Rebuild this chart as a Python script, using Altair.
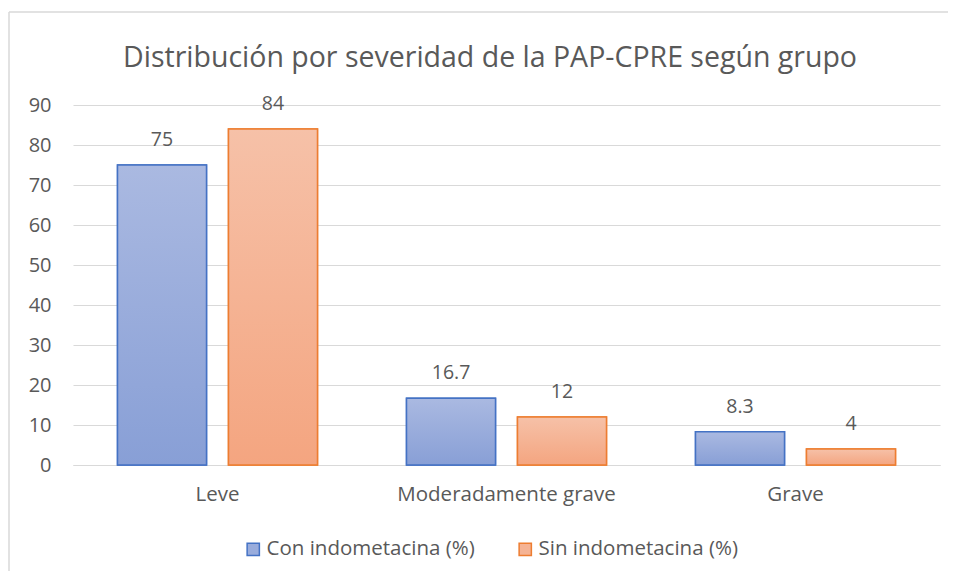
import altair as alt
import pandas as pd

titulo = "Distribución por severidad de la PAP-CPRE según grupo"
categorias = ["Leve", "Moderadamente grave", "Grave"]
series = ["Con indometacina (%)", "Sin indometacina (%)"]
con_indometacina = [75, 16.7, 8.3]
sin_indometacina = [84, 12, 4]
etiquetas_con = ["75", "16.7", "8.3"]
etiquetas_sin = ["84", "12", "4"]

rows = []
for i, c in enumerate(categorias):
    rows.append({"cat": c, "serie": series[0], "valor": con_indometacina[i], "lab": etiquetas_con[i]})
    rows.append({"cat": c, "serie": series[1], "valor": sin_indometacina[i], "lab": etiquetas_sin[i]})
df = pd.DataFrame(rows)

FONT = "Open Sans"
GRAY = "#595959"
GRID = "#D9D9D9"

def grad(top, bottom):
    return alt.Gradient(
        gradient="linear",
        stops=[alt.GradientStop(color=top, offset=0), alt.GradientStop(color=bottom, offset=1)],
        x1=0, x2=0, y1=0, y2=1,
    )

grad_blue = grad("#AAB9E1", "#889FD6")
grad_orange = grad("#F6C1A8", "#F4A580")

legend = alt.Legend(
    title=None, orient="none", direction="horizontal", legendX=170, legendY=434,
    symbolType="square", symbolSize=150, symbolStrokeWidth=1.5,
    labelFont=FONT, labelFontSize=20.5, labelColor=GRAY, columnPadding=40, symbolOffset=0,
    labelOffset=3, labelLimit=0,
)

base = alt.Chart(df).encode(
    x=alt.X("cat:N", sort=categorias, title=None,
            scale=alt.Scale(paddingInner=0.308, paddingOuter=0.154),
            axis=alt.Axis(labelAngle=0, labelFont=FONT, labelFontSize=20.5, labelColor=GRAY,
                          ticks=False, domainColor=GRID, domainWidth=1, labelPadding=19,
                          labelLimit=0)),
    xOffset=alt.XOffset("serie:N", sort=series, scale=alt.Scale(paddingInner=0.198, paddingOuter=0)),
    y=alt.Y("valor:Q", title=None, scale=alt.Scale(domain=[0, 90], nice=False),
            axis=alt.Axis(values=list(range(0, 91, 10)), labelFont=FONT, labelFontSize=20,
                          labelColor=GRAY, ticks=False, domain=False, gridColor=GRID,
                          gridWidth=1, labelPadding=22)),
)

bars_legend = base.mark_bar(strokeWidth=1.5).encode(
    fill=alt.Fill("serie:N", sort=series, scale=alt.Scale(domain=series, range=["#99ACDC", "#F5B394"]), legend=legend),
    stroke=alt.Stroke("serie:N", sort=series, scale=alt.Scale(domain=series, range=["#4472C4", "#ED7D31"]), legend=legend),
)

bars_con = base.transform_filter(alt.datum.serie == series[0]).mark_bar(
    fill=grad_blue, stroke="#4472C4", strokeWidth=1.5)
bars_sin = base.transform_filter(alt.datum.serie == series[1]).mark_bar(
    fill=grad_orange, stroke="#ED7D31", strokeWidth=1.5)

labels = base.mark_text(baseline="bottom", dy=-15, font=FONT, fontSize=19.5, color=GRAY).encode(
    text="lab:N")

one = pd.DataFrame({"t": [titulo]})
frame_top = alt.Chart(one).mark_rule(color=GRID, strokeWidth=1.5).encode(
    x=alt.value(-64), x2=alt.value(1000), y=alt.value(-93))
frame_left = alt.Chart(one).mark_rule(color=GRID, strokeWidth=1.5).encode(
    x=alt.value(-64), y=alt.value(-93), y2=alt.value(700))

title_mark = alt.Chart(one).mark_text(
    font=FONT, fontSize=28.5, color=GRAY, align="center", baseline="alphabetic").encode(
    x=alt.value(417), y=alt.value(-38), text="t:N")

chart = alt.layer(frame_top, frame_left, bars_legend, bars_con, bars_sin, labels, title_mark).properties(
    width=867, height=360,
    autosize=alt.AutoSizeParams(type="none"),
    padding={"left": 65, "top": 97, "right": 8, "bottom": 106},
).configure_view(stroke=None)

chart.save("out.html", embed_options={"renderer": "svg", "actions": False})
